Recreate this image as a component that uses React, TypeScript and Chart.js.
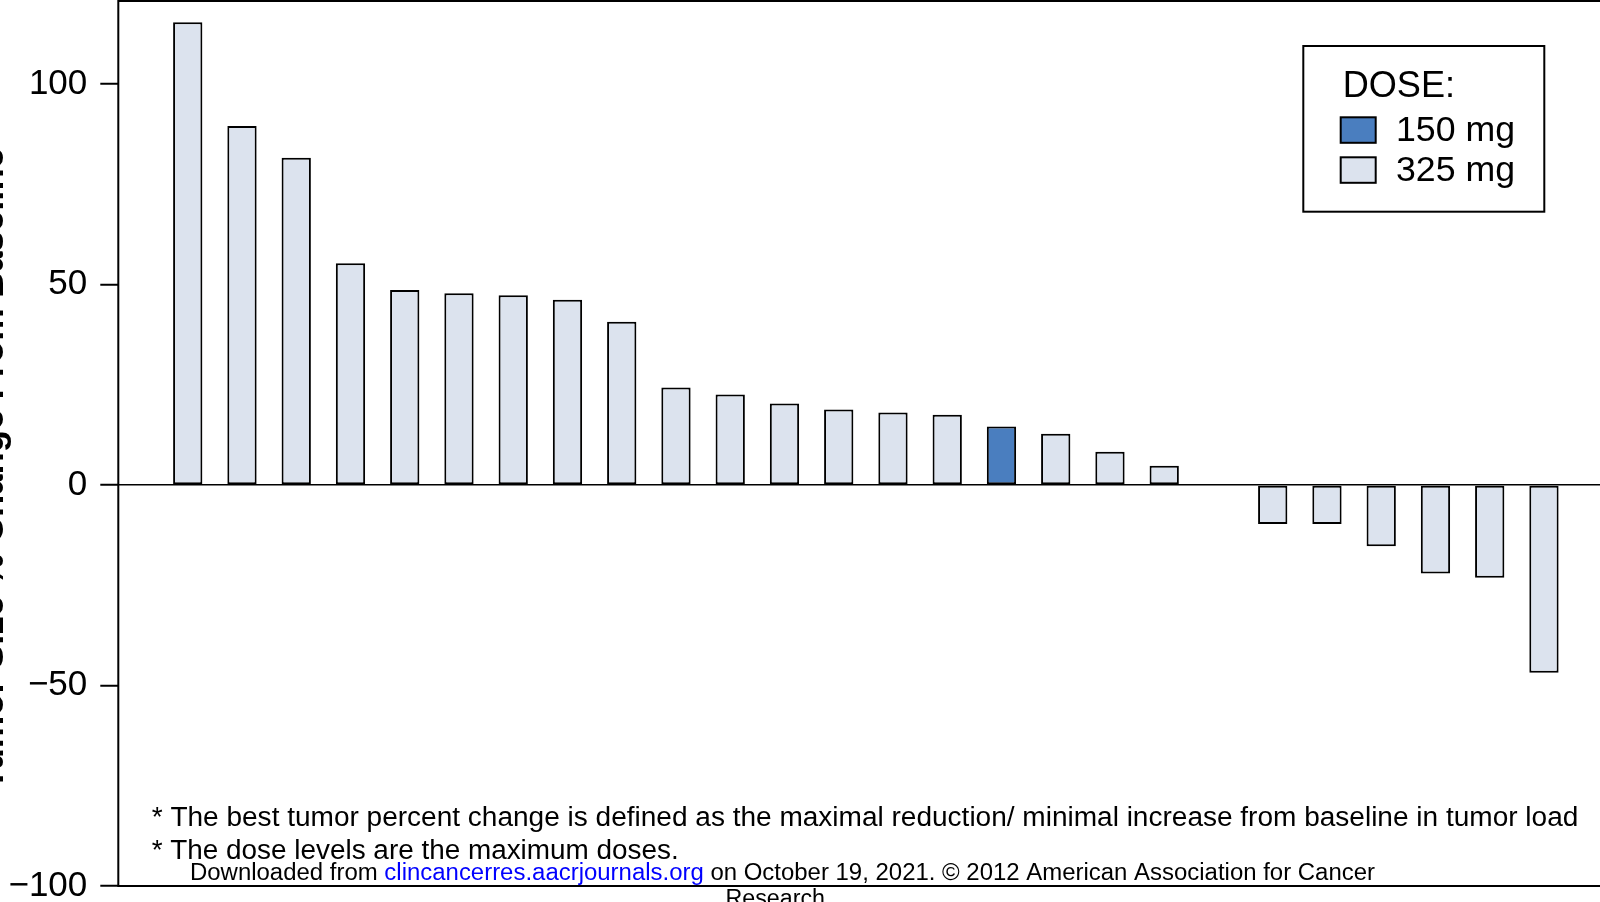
import { useEffect, useRef } from "react";
import { Chart, registerables } from "chart.js";

Chart.register(...registerables);

// Patient slots along the x axis (one bar per patient, sorted by best change)
const PATIENT_SLOTS = [
  1, 2, 3, 4, 5, 6, 7, 8, 9, 10, 11, 12, 13,
  14, 15, 16, 17, 18, 19, 20, 21, 22, 23, 24, 25, 26,
];

// Best tumor percent change from baseline for each patient
const BEST_CHANGE = [
  115.4, 89.5, 81.6, 55.3, 48.6, 47.8, 47.3, 46.2, 40.7, 24.3, 22.6, 20.3, 18.8,
  18.1, 17.5, 14.6, 12.8, 8.3, 4.8, 0, -9.7, -9.7, -15.3, -22.1, -23.1, -46.8,
];

// Maximum dose level received by each patient (mg)
const DOSE_MG = [
  325, 325, 325, 325, 325, 325, 325, 325, 325, 325, 325, 325, 325,
  325, 325, 150, 325, 325, 325, 325, 325, 325, 325, 325, 325, 325,
];

const DOSE_LEVELS = [150, 325];
const DOSE_LABELS = ["150 mg", "325 mg"];
const DOSE_COLORS = ["#4a7ebf", "#dce3ee"];

const Y_TICKS = [-100, -50, 0, 50, 100];
const Y_MIN = -100;
const Y_MAX = 120.7;

const Y_TITLE = "Tumor Size % Change From Baseline";
const LEGEND_TITLE = "DOSE:";
const NOTE_LINES = [
  "* The best tumor percent change is defined as the maximal reduction/ minimal increase from baseline in tumor load",
  "* The dose levels are the maximum doses.",
];
const SOURCE_PARTS = [
  "Downloaded from ",
  "clincancerres.aacrjournals.org",
  " on October 19, 2021. \u00a9 2012 American Association for Cancer",
];
const SOURCE_TAIL = "Research.";

const FONT = "'Liberation Sans', Arial, Helvetica, sans-serif";

function colorForDose(mg: number): string {
  return DOSE_COLORS[DOSE_LEVELS.indexOf(mg)];
}

// Draw a run of text segments starting at x, squeezed/stretched to a target width
function drawFitted(
  ctx: CanvasRenderingContext2D,
  parts: { text: string; color: string }[],
  x: number,
  y: number,
  font: string,
  targetWidth: number
) {
  ctx.save();
  ctx.font = font;
  ctx.textAlign = "left";
  ctx.textBaseline = "alphabetic";
  const total = parts.reduce((s, p) => s + ctx.measureText(p.text).width, 0);
  const sx = targetWidth / total;
  ctx.translate(x, y);
  ctx.scale(sx, 1);
  let cx = 0;
  for (const p of parts) {
    ctx.fillStyle = p.color;
    ctx.fillText(p.text, cx, 0);
    cx += ctx.measureText(p.text).width;
  }
  ctx.restore();
}

const figureOverlay = {
  id: "figureOverlay",
  afterDraw(chart: any) {
    const ctx: CanvasRenderingContext2D = chart.ctx;
    const { left, top, right, bottom } = chart.chartArea;

    // Plot frame
    ctx.save();
    ctx.strokeStyle = "#000";
    ctx.lineWidth = 2;
    ctx.strokeRect(left, top, right - left, bottom - top);
    ctx.restore();

    // Y axis title (rotated, bold)
    ctx.save();
    ctx.font = `bold 36px ${FONT}`;
    const tw = ctx.measureText(Y_TITLE).width;
    ctx.translate(2.5, 469);
    ctx.rotate(-Math.PI / 2);
    ctx.scale(642 / tw, 1);
    ctx.fillStyle = "#000";
    ctx.textAlign = "center";
    ctx.textBaseline = "alphabetic";
    ctx.fillText(Y_TITLE, 0, 0);
    ctx.restore();

    // Legend box
    const lgLeft = 1303.3;
    const lgTop = 46;
    const lgW = 241;
    const lgH = 165.7;
    ctx.save();
    ctx.fillStyle = "#fff";
    ctx.fillRect(lgLeft, lgTop, lgW, lgH);
    ctx.strokeStyle = "#000";
    ctx.lineWidth = 2;
    ctx.strokeRect(lgLeft, lgTop, lgW, lgH);
    ctx.restore();
    drawFitted(ctx, [{ text: LEGEND_TITLE, color: "#000" }], 1342.7, 96.7, `36px ${FONT}`, 112.3);
    DOSE_LABELS.forEach((label, i) => {
      const sy = 117.3 + i * 40;
      ctx.save();
      ctx.fillStyle = DOSE_COLORS[i];
      ctx.fillRect(1340.7, sy, 35, 25.5);
      ctx.strokeStyle = "#000";
      ctx.lineWidth = 2;
      ctx.strokeRect(1340.7, sy, 35, 25.5);
      ctx.restore();
      drawFitted(ctx, [{ text: label, color: "#000" }], 1396, 141 + i * 40, `35px ${FONT}`, 119);
    });

    // Footnotes inside the plot
    drawFitted(ctx, [{ text: NOTE_LINES[0], color: "#000" }], 151.7, 826, `27px ${FONT}`, 1426.6);
    drawFitted(ctx, [{ text: NOTE_LINES[1], color: "#000" }], 151.7, 859, `27px ${FONT}`, 527);

    // Source line
    drawFitted(
      ctx,
      [
        { text: SOURCE_PARTS[0], color: "#000" },
        { text: SOURCE_PARTS[1], color: "#0000ff" },
        { text: SOURCE_PARTS[2], color: "#000" },
      ],
      190,
      879.5,
      `23px ${FONT}`,
      1185
    );
    drawFitted(ctx, [{ text: SOURCE_TAIL, color: "#000" }], 725.5, 905.5, `23px ${FONT}`, 106);
  },
};

export default function App() {
  const canvasRef = useRef<HTMLCanvasElement | null>(null);

  useEffect(() => {
    const canvas = canvasRef.current;
    if (!canvas) return;

    const chart = new Chart(canvas, {
      type: "bar",
      data: {
        datasets: [
          {
            data: PATIENT_SLOTS.map((slot, i) => ({ x: slot, y: BEST_CHANGE[i] })),
            backgroundColor: DOSE_MG.map(colorForDose),
            borderColor: "#000",
            borderWidth: 2,
            borderSkipped: false,
            barPercentage: 0.54,
            categoryPercentage: 1,
          },
        ],
      },
      options: {
        responsive: false,
        animation: false,
        events: [],
        layout: { padding: { left: 0, top: 1, right: 26.6, bottom: 16 } },
        plugins: {
          legend: { display: false },
          tooltip: { enabled: false },
        },
        scales: {
          x: {
            type: "linear",
            min: -0.28,
            max: 27.28,
            offset: false,
            grid: { offset: false },
            display: false,
          },
          y: {
            min: Y_MIN,
            max: Y_MAX,
            afterFit: (scale: any) => {
              scale.width = 118.3;
              scale.paddingTop = 0;
              scale.paddingBottom = 0;
            },
            afterBuildTicks: (scale: any) => {
              scale.ticks = Y_TICKS.map((v) => ({ value: v }));
            },
            border: { display: false },
            grid: {
              color: (c: any) => (c.tick && c.tick.value === 0 ? "#000" : "rgba(0,0,0,0)"),
              lineWidth: 1.5,
              tickColor: "#000",
              tickLength: 18,
              tickWidth: 2,
            },
            ticks: {
              color: "#000",
              padding: 13,
              font: { family: FONT, size: 35 },
              callback: (v: any) => (Number(v) < 0 ? "\u2212" + Math.abs(Number(v)) : String(v)),
            },
          },
        },
      },
      plugins: [figureOverlay],
    });

    return () => chart.destroy();
  }, []);

  return (
    <div
      style={{
        position: "fixed",
        left: 0,
        top: 0,
        width: "100vw",
        height: "100vh",
        overflow: "hidden",
        background: "#fff",
      }}
    >
      <canvas
        ref={canvasRef}
        width={1640}
        height={902}
        style={{ display: "block", width: 1640, height: 902 }}
      />
    </div>
  );
}
